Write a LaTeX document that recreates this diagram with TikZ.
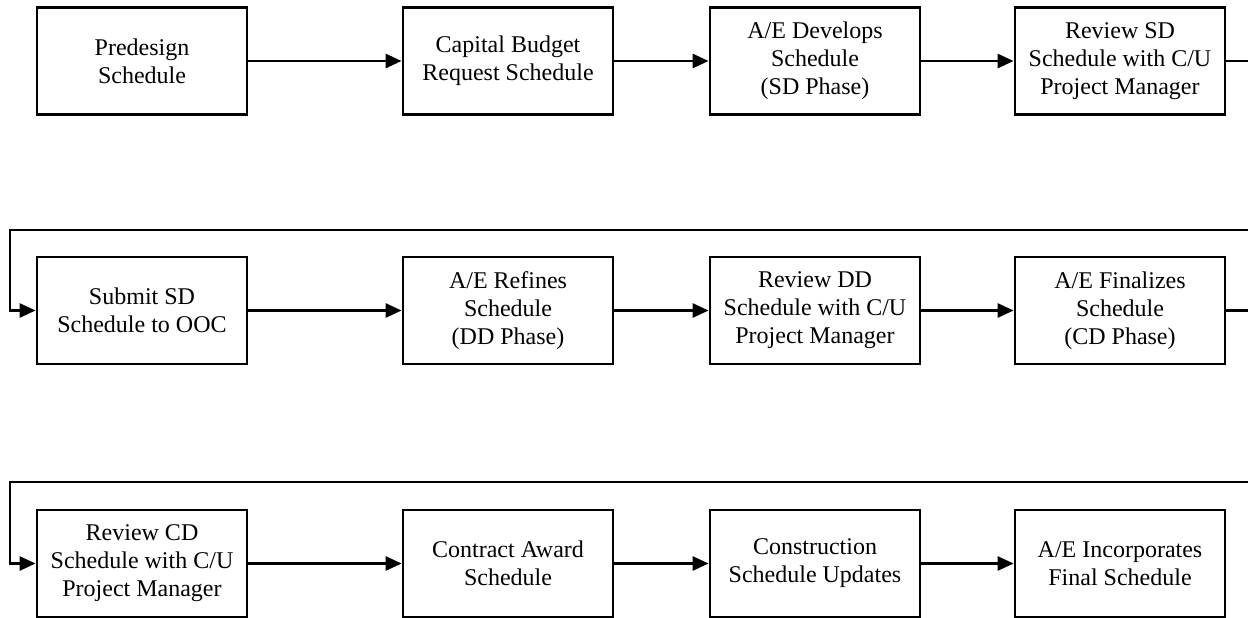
\documentclass[tikz,border=0pt]{standalone}
\usepackage{fontspec}
\setmainfont{Liberation Serif}
\usetikzlibrary{arrows.meta}
\tikzset{
  stepbox/.style={draw, line width=2.8pt, minimum width=210pt, minimum height=107pt,
    inner sep=0pt, align=center, font=\fontsize{24}{28}\selectfont},
  conn/.style={line width=2.8pt, -{Triangle[length=16pt,width=14pt]}},
}
\begin{document}
\begin{tikzpicture}[x=1pt,y=-1pt]
\useasboundingbox (0,0) rectangle (1248,618);
\clip (0,0) rectangle (1248,618);
% row 1
\node[stepbox] (a1) at (142,61) {Predesign\\Schedule};
\node[stepbox] (a2) at (508,61) {Capital Budget\\Request Schedule};
\node[stepbox] (a3) at (815,61) {A/E Develops\\Schedule\\(SD Phase)};
\node[stepbox] (a4) at (1120,61) {Review SD\\Schedule with C/U\\Project Manager};
% row 2
\node[stepbox] (b1) at (142,310.5) {Submit SD\\Schedule to OOC};
\node[stepbox] (b2) at (508,310.5) {A/E Refines\\Schedule\\(DD Phase)};
\node[stepbox] (b3) at (815,310.5) {Review DD\\Schedule with C/U\\Project Manager};
\node[stepbox] (b4) at (1120,310.5) {A/E Finalizes\\Schedule\\(CD Phase)};
% row 3
\node[stepbox] (c1) at (142,563.5) {Review CD\\Schedule with C/U\\Project Manager};
\node[stepbox] (c2) at (508,563.5) {Contract Award\\Schedule};
\node[stepbox] (c3) at (815,563.5) {Construction\\Schedule Updates};
\node[stepbox] (c4) at (1120,563.5) {A/E Incorporates\\Final Schedule};
% return coordinates
\coordinate (ra) at (1256,230);
\coordinate (rb) at (10,230);
\coordinate (sa) at (1256,482);
\coordinate (sb) at (10,482);
% connectors
\draw[conn] (a1) -- (a2);
\draw[conn] (a2) -- (a3);
\draw[conn] (a3) -- (a4);
\draw[conn] (a4.east) -| (ra) -- (rb) |- (b1.west);
\draw[conn] (b1) -- (b2);
\draw[conn] (b2) -- (b3);
\draw[conn] (b3) -- (b4);
\draw[conn] (b4.east) -| (sa) -- (sb) |- (c1.west);
\draw[conn] (c1) -- (c2);
\draw[conn] (c2) -- (c3);
\draw[conn] (c3) -- (c4);
\end{tikzpicture}
\end{document}
